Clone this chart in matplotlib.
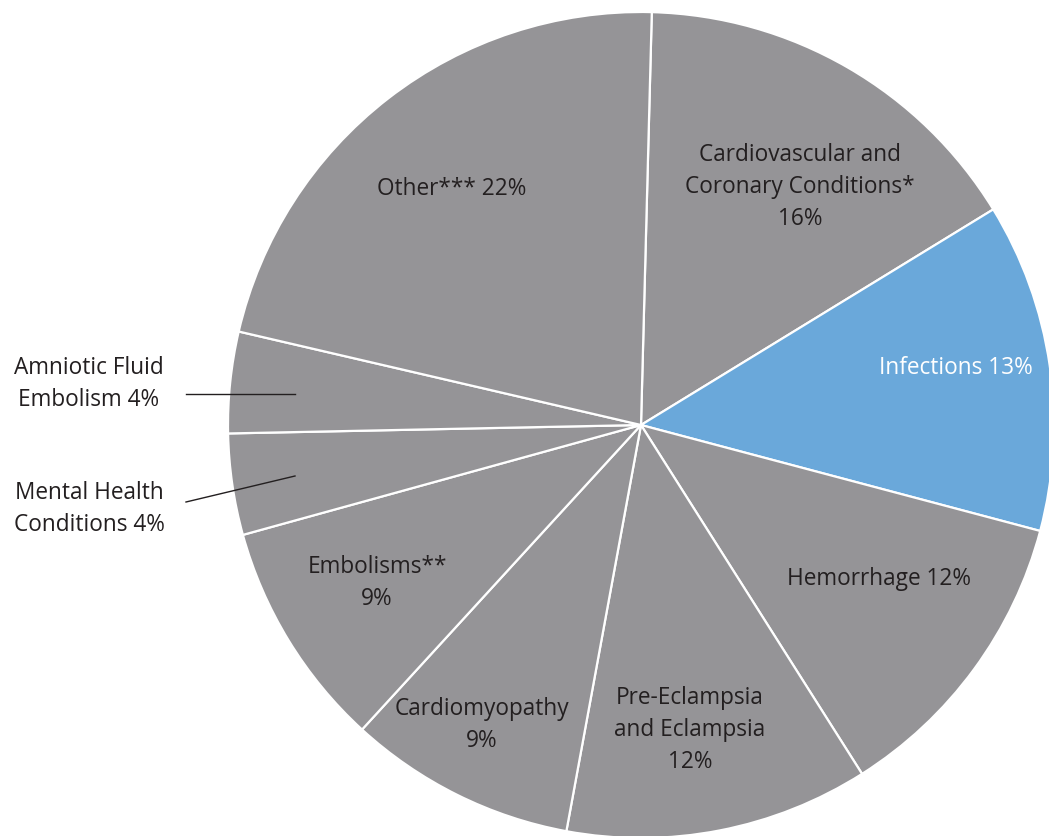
import matplotlib.pyplot as plt

causes = ["Cardiovascular and\nCoronary Conditions*\n16%", "Infections 13%",
          "Hemorrhage 12%", "Pre-Eclampsia\nand Eclampsia\n12%",
          "Cardiomyopathy\n9%", "Embolisms**\n9%", "Mental Health\nConditions 4%",
          "Amniotic Fluid\nEmbolism 4%", "Other*** 22%"]
shares = [16, 13, 12, 12, 9, 9, 4, 4, 22]

gray = "#959497"
blue = "#6aa8da"
colors = [gray, blue] + [gray] * 7

# label anchor points (figure pixels, origin top-left)
label_xy = [(800, 187), (956, 368), (879, 579), (690, 730), (482, 725),
            (377, 583), (89, 509), (89, 384), (452, 189)]

W, H = 1049, 837
fig = plt.figure(figsize=(W / 100, H / 100), dpi=100)
ax = fig.add_axes([0, 0, 1, 1])
plt.rcParams['font.family'] = ['Open Sans', 'DejaVu Sans']

cx, cy, r = 641, 426, 413
ax.pie(shares, colors=colors, startangle=88.5, counterclock=False,
       center=(cx, H - cy), radius=r,
       wedgeprops=dict(edgecolor="white", linewidth=1.6))

for i, (name, (x, y)) in enumerate(zip(causes, label_xy)):
    col = "white" if i == 1 else "#231f20"
    ax.text(x, H - y, name, ha="center", va="center", fontsize=16.3,
            color=col, linespacing=1.47)

# leader lines for the two thin slices
ax.plot([186, 295], [H - 395, H - 395], color="#231f20", lw=1)
ax.plot([186, 295], [H - 503, H - 477], color="#231f20", lw=1)

ax.set_xlim(0, W)
ax.set_ylim(0, H)
ax.set_aspect("equal")
ax.axis("off")
fig.savefig("out.png", dpi=100, facecolor="white")
